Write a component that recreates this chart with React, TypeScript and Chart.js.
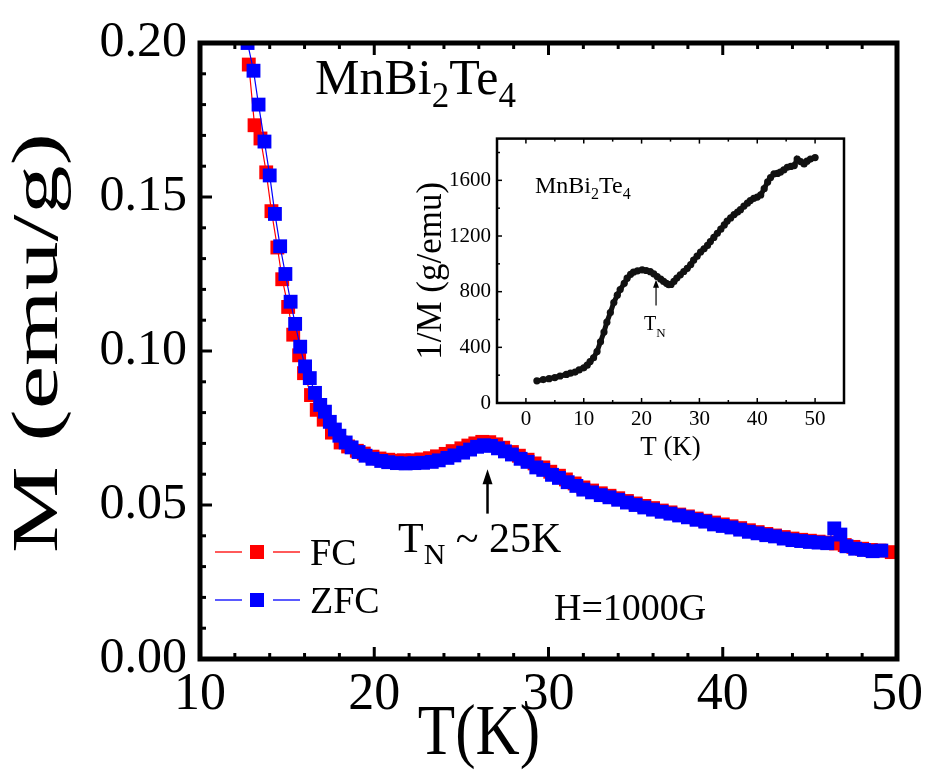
import { useEffect, useRef } from 'react';
import { Chart, registerables } from 'chart.js';
Chart.register(...registerables);

const FONT = '"Liberation Serif", "Times New Roman", Times, serif';

// ---- Main panel data: M (emu/g) vs T (K) ----
const zfcT = [12.73, 13.07, 13.36, 13.7, 14.0, 14.3, 14.6, 14.9, 15.2, 15.46, 15.75, 16.03, 16.3, 16.6, 16.9, 17.17, 17.45, 17.74, 18.0, 18.36, 18.7, 19.1, 19.5, 19.9, 20.4, 20.8, 21.3, 21.8, 22.3, 22.8, 23.3, 23.7, 24.2, 24.6, 25.1, 25.5, 25.9, 26.3, 26.7, 27.1, 27.5, 27.9, 28.4, 28.8, 29.3, 29.7, 30.2, 30.6, 31.1, 31.6, 32.0, 32.5, 33.0, 33.5, 34.0, 34.5, 35.0, 35.5, 36.0, 36.5, 37.0, 37.5, 38.0, 38.5, 39.0, 39.5, 40.0, 40.5, 41.0, 41.5, 42.0, 42.5, 43.0, 43.5, 44.0, 44.5, 45.0, 45.5, 46.0, 46.4, 46.75, 47.1, 47.6, 48.1, 48.6, 49.1];
const zfcM = [0.2, 0.191, 0.18, 0.168, 0.157, 0.1445, 0.134, 0.125, 0.116, 0.1088, 0.1014, 0.095, 0.0912, 0.0864, 0.0825, 0.0803, 0.077, 0.0745, 0.0725, 0.0703, 0.0687, 0.0672, 0.066, 0.065, 0.0643, 0.0639, 0.0636, 0.0635, 0.0636, 0.0637, 0.064, 0.0645, 0.0653, 0.0661, 0.067, 0.068, 0.0689, 0.0694, 0.0692, 0.0684, 0.0674, 0.0664, 0.065, 0.064, 0.0622, 0.0614, 0.0598, 0.0588, 0.0574, 0.0562, 0.055, 0.0541, 0.0532, 0.0525, 0.0517, 0.0508, 0.05, 0.0492, 0.0485, 0.0478, 0.0472, 0.0466, 0.046, 0.0452, 0.0446, 0.0437, 0.0432, 0.0427, 0.042, 0.0413, 0.0408, 0.0402, 0.0398, 0.0391, 0.0386, 0.0383, 0.038, 0.0378, 0.0376, 0.0424, 0.0404, 0.0366, 0.0358, 0.0354, 0.035, 0.0352];

const fcT = [12.8, 13.13, 13.47, 13.8, 14.1, 14.44, 14.72, 15.06, 15.35, 15.69, 15.97, 16.37, 16.7, 17.1, 17.57, 18.07, 18.5, 19.0, 19.4, 19.9, 20.3, 20.8, 21.3, 21.7, 22.2, 22.7, 23.2, 23.6, 24.1, 24.5, 25.0, 25.4, 25.8, 26.2, 26.6, 27.0, 27.4, 27.9, 28.3, 28.8, 29.2, 29.7, 30.1, 30.6, 31.0, 31.5, 32.0, 32.5, 33.0, 33.5, 34.0, 34.5, 35.0, 35.5, 36.0, 36.5, 37.0, 37.5, 38.0, 38.5, 39.0, 39.5, 40.0, 40.5, 41.0, 41.5, 42.0, 42.5, 43.0, 43.5, 44.0, 44.5, 45.0, 45.5, 46.0, 46.5, 47.0, 47.5, 48.0, 48.5, 49.0, 49.7];
const fcM = [0.193, 0.1733, 0.169, 0.158, 0.1454, 0.1336, 0.1233, 0.1143, 0.1053, 0.0986, 0.0928, 0.0857, 0.0809, 0.0777, 0.0735, 0.0703, 0.069, 0.0676, 0.0667, 0.0657, 0.0651, 0.0647, 0.0644, 0.0645, 0.0645, 0.0648, 0.0652, 0.0658, 0.0666, 0.0675, 0.0684, 0.0693, 0.07, 0.0705, 0.0704, 0.0697, 0.0686, 0.0672, 0.066, 0.0647, 0.0635, 0.0622, 0.0608, 0.0595, 0.0583, 0.057, 0.0557, 0.0547, 0.0538, 0.053, 0.0522, 0.0513, 0.0505, 0.0497, 0.049, 0.0482, 0.0476, 0.0469, 0.0463, 0.0456, 0.0449, 0.0443, 0.0437, 0.0431, 0.0425, 0.0418, 0.0412, 0.0406, 0.0401, 0.0396, 0.0391, 0.0387, 0.0384, 0.0381, 0.0378, 0.0375, 0.037, 0.0364, 0.0358, 0.0354, 0.0352, 0.0347];

const mainXTicks = [10, 20, 30, 40, 50];
const mainYTicks = [0, 0.05, 0.1, 0.15, 0.2];
const seriesLabels = ['FC', 'ZFC'];
const mainXTitle = 'T(K)';
const mainYTitle = 'M (emu/g)';

// ---- Inset data: 1/M (g/emu) vs T (K) ----
const insetT = [1.9, 3, 4, 5, 5.9, 7, 7.7, 8.5, 9.2, 10, 10.6, 11.1, 11.7, 12.3, 12.9, 13.5, 14, 14.6, 15.2, 15.8, 16.3, 17, 17.5, 18.1, 18.6, 19.3, 20.1, 20.8, 21.5, 22.1, 22.7, 23.3, 23.8, 24.3, 24.7, 25.1, 25.6, 26.1, 26.7, 27.3, 27.9, 28.5, 29, 29.6, 30.2, 30.8, 31.4, 31.9, 32.5, 33.1, 33.7, 34.3, 34.8, 35.4, 36, 36.6, 37.1, 37.7, 38.3, 38.8, 39.4, 40, 40.6, 41.2, 41.8, 42.3, 42.9, 43.5, 44, 44.6, 45.2, 45.8, 46.4, 46.9, 47.5, 48.1, 48.6, 49.2, 50];
const insetInvM = [159, 168, 175, 183, 194, 205, 214, 222, 238, 253, 272, 298, 325, 370, 440, 510, 581, 650, 722, 775, 815, 860, 897, 925, 940, 950, 956, 952, 944, 928, 909, 890, 874, 860, 850, 852, 874, 898, 921, 945, 968, 995, 1026, 1055, 1085, 1108, 1132, 1160, 1190, 1220, 1249, 1280, 1307, 1330, 1354, 1372, 1389, 1415, 1436, 1455, 1471, 1480, 1495, 1540, 1589, 1620, 1647, 1650, 1659, 1675, 1694, 1700, 1706, 1753, 1735, 1718, 1738, 1753, 1764];
const insetXTicks = [0, 10, 20, 30, 40, 50];
const insetYTicks = [0, 400, 800, 1200, 1600];

type Part = [string, boolean];

function drawRich(ctx: CanvasRenderingContext2D, parts: Part[], x: number, y: number, size: number, subSize: number, subDy: number) {
  let cx = x;
  ctx.textAlign = 'left';
  ctx.textBaseline = 'alphabetic';
  for (const [t, sub] of parts) {
    ctx.font = `${sub ? subSize : size}px ${FONT}`;
    ctx.fillText(t, cx, sub ? y + subDy : y);
    cx += ctx.measureText(t).width;
  }
}

function drawArrow(ctx: CanvasRenderingContext2D, x: number, yTip: number, yTail: number, lw: number, headLen: number, headHalf: number) {
  ctx.save();
  ctx.strokeStyle = '#000';
  ctx.fillStyle = '#000';
  ctx.lineWidth = lw;
  ctx.beginPath();
  ctx.moveTo(x, yTail);
  ctx.lineTo(x, yTip + headLen - 1);
  ctx.stroke();
  ctx.beginPath();
  ctx.moveTo(x, yTip);
  ctx.lineTo(x - headHalf, yTip + headLen);
  ctx.lineTo(x + headHalf, yTip + headLen);
  ctx.closePath();
  ctx.fill();
  ctx.restore();
}

function framePlugin(o: { border: number; tickW: number; major: number; minor: number; xMinor: number; xMajor: number; yMinor: number; yMajor: number; top: boolean; right: boolean }) {
  return {
    id: 'frameTicks',
    afterDatasetsDraw(chart: any) {
      const { ctx, chartArea: a, scales } = chart;
      const xs = scales.x, ys = scales.y;
      ctx.save();
      ctx.strokeStyle = '#000';
      ctx.lineWidth = o.tickW;
      ctx.lineCap = 'butt';
      const isMajor = (v: number, step: number) => Math.abs(v / step - Math.round(v / step)) < 1e-6;
      const seg = (x1: number, y1: number, x2: number, y2: number) => {
        ctx.beginPath(); ctx.moveTo(x1, y1); ctx.lineTo(x2, y2); ctx.stroke();
      };
      const x0 = Math.ceil(xs.min / o.xMinor - 1e-9) * o.xMinor;
      for (let v = x0; v <= xs.max + 1e-9; v += o.xMinor) {
        const px = xs.getPixelForValue(v);
        const len = isMajor(v, o.xMajor) ? o.major : o.minor;
        seg(px, a.bottom, px, a.bottom - len);
        if (o.top) seg(px, a.top, px, a.top + len);
      }
      const y0 = Math.ceil(ys.min / o.yMinor - 1e-9) * o.yMinor;
      for (let v = y0; v <= ys.max + 1e-9; v += o.yMinor) {
        const py = ys.getPixelForValue(v);
        const len = isMajor(v, o.yMajor) ? o.major : o.minor;
        seg(a.left, py, a.left + len, py);
        if (o.right) seg(a.right, py, a.right - len, py);
      }
      ctx.lineWidth = o.border;
      ctx.strokeRect(a.left, a.top, a.right - a.left, a.bottom - a.top);
      ctx.restore();
    },
  };
}

const mainAnnot = {
  id: 'mainAnnot',
  afterDraw(chart: any) {
    const { ctx, scales } = chart;
    const xs = scales.x, ys = scales.y;
    ctx.save();
    ctx.fillStyle = '#000';
    drawRich(ctx, [['MnBi', false], ['2', true], ['Te', false], ['4', true]], 315, 94, 50, 35, 13);
    // T_N arrow
    const ax = xs.getPixelForValue(26.5);
    drawArrow(ctx, ax, ys.getPixelForValue(0.0616), ys.getPixelForValue(0.0472), 2.5, 15, 5);
    drawRich(ctx, [['T', false], ['N', true], [' ~ 25K', false]], 398, 552, 42, 30, 12);
    drawRich(ctx, [['H=1000G', false]], 554, 620, 38, 38, 0);
    // legend
    const ds = chart.data.datasets;
    const rows = [{ i: 0, y: 552 }, { i: 1, y: 600 }];
    for (const r of rows) {
      const d = ds[r.i];
      ctx.strokeStyle = d.borderColor;
      ctx.lineWidth = 1.3;
      ctx.beginPath(); ctx.moveTo(215, r.y); ctx.lineTo(242, r.y); ctx.stroke();
      ctx.beginPath(); ctx.moveTo(273, r.y); ctx.lineTo(300, r.y); ctx.stroke();
      ctx.fillStyle = d.pointBackgroundColor;
      ctx.fillRect(250, r.y - 7, 14, 14);
      ctx.fillStyle = '#000';
      drawRich(ctx, [[d.label, false]], 310, r.y + 13, 38, 38, 0);
    }
    // x-axis title (condensed serif, placed as in the reference)
    ctx.save();
    ctx.font = `72px ${FONT}`;
    ctx.textAlign = 'center';
    ctx.textBaseline = 'middle';
    ctx.translate(479, 735);
    ctx.scale(0.85, 1);
    ctx.fillText(mainXTitle, 0, 0);
    ctx.restore();
    // y-axis title (rotated, elongated like the reference)
    ctx.save();
    ctx.font = `66px ${FONT}`;
    ctx.textAlign = 'center';
    ctx.textBaseline = 'middle';
    const natural = ctx.measureText(mainYTitle).width;
    const k = 420 / natural;
    ctx.translate(40, 343);
    ctx.rotate(-Math.PI / 2);
    ctx.scale(k, 1);
    ctx.fillText(mainYTitle, 0, 0);
    ctx.restore();
    ctx.restore();
  },
};

const insetAnnot = {
  id: 'insetAnnot',
  afterDraw(chart: any) {
    const { ctx, scales } = chart;
    const xs = scales.x, ys = scales.y;
    ctx.save();
    ctx.fillStyle = '#000';
    drawRich(ctx, [['MnBi', false], ['2', true], ['Te', false], ['4', true]], 135, 73, 24, 16, 6);
    const ax = xs.getPixelForValue(22.5);
    drawArrow(ctx, ax, ys.getPixelForValue(885), ys.getPixelForValue(700), 1.2, 8, 3);
    drawRich(ctx, [['T', false], ['N', true]], 244, 210, 20, 13, 7);
    ctx.restore();
  },
};

function pts(xs: number[], ys: number[]) {
  return xs.map((x, i) => ({ x, y: ys[i] }));
}

export default function App() {
  const mainRef = useRef<HTMLCanvasElement>(null);
  const insetRef = useRef<HTMLCanvasElement>(null);

  useEffect(() => {
    const mainChart = new Chart(mainRef.current as HTMLCanvasElement, {
      type: 'scatter',
      data: {
        datasets: [
          {
            label: seriesLabels[0],
            data: pts(fcT, fcM),
            showLine: true,
            borderColor: '#ff0000',
            backgroundColor: '#ff0000',
            pointBackgroundColor: '#ff0000',
            borderWidth: 1.2,
            pointStyle: 'rect',
            pointRadius: 9.8,
            pointBorderWidth: 0,
            clip: 0,
            order: 1,
          },
          {
            label: seriesLabels[1],
            data: pts(zfcT, zfcM),
            showLine: true,
            borderColor: '#0000ff',
            backgroundColor: '#0000ff',
            pointBackgroundColor: '#0000ff',
            borderWidth: 1.2,
            pointStyle: 'rect',
            pointRadius: 9.8,
            pointBorderWidth: 0,
            clip: 0,
            order: 0,
          },
        ],
      } as any,
      options: {
        animation: false,
        responsive: false,
        devicePixelRatio: 1,
        events: [],
        layout: { padding: { left: 0, top: 36, right: 25, bottom: 0 } },
        plugins: { legend: { display: false }, tooltip: { enabled: false } },
        scales: {
          x: {
            type: 'linear',
            min: 10,
            max: 50,
            afterBuildTicks: (s: any) => { s.ticks = mainXTicks.map((v) => ({ value: v })); },
            afterFit: (s: any) => { s.height = 114; },
            ticks: { color: '#000', font: { family: FONT, size: 52 }, padding: 5, maxRotation: 0 },
            grid: { display: false, drawTicks: false },
            border: { display: false },
            title: { display: false, text: mainXTitle },
          },
          y: {
            type: 'linear',
            min: 0,
            max: 0.2,
            afterBuildTicks: (s: any) => { s.ticks = mainYTicks.map((v) => ({ value: v })); },
            afterFit: (s: any) => { s.width = 200; },
            ticks: { color: '#000', font: { family: FONT, size: 50 }, padding: 13, callback: (v: any) => Number(v).toFixed(2) },
            grid: { display: false, drawTicks: false },
            border: { display: false },
            title: { display: false, text: mainYTitle },
          },
        },
      } as any,
      plugins: [framePlugin({ border: 5, tickW: 3, major: 12, minor: 6, xMinor: 2, xMajor: 10, yMinor: 0.01, yMajor: 0.05, top: true, right: false }), mainAnnot],
    });

    const insetChart = new Chart(insetRef.current as HTMLCanvasElement, {
      type: 'scatter',
      data: {
        datasets: [
          {
            label: '1/M',
            data: pts(insetT, insetInvM),
            showLine: true,
            borderColor: '#111',
            backgroundColor: '#111',
            pointBackgroundColor: '#111',
            borderWidth: 5,
            pointRadius: 3.6,
            pointBorderWidth: 0,
          },
        ],
      } as any,
      options: {
        animation: false,
        responsive: false,
        devicePixelRatio: 1,
        events: [],
        layout: { padding: { left: 0, top: 13, right: 16, bottom: 0 } },
        plugins: { legend: { display: false }, tooltip: { enabled: false } },
        scales: {
          x: {
            type: 'linear',
            min: -5,
            max: 55,
            afterBuildTicks: (s: any) => { s.ticks = insetXTicks.map((v) => ({ value: v })); },
            afterFit: (s: any) => { s.height = 62; },
            ticks: { color: '#000', font: { family: FONT, size: 21 }, padding: 4, maxRotation: 0, callback: (v: any) => String(v) },
            grid: { display: false, drawTicks: false },
            border: { display: false },
            title: { display: true, text: 'T (K)', color: '#000', font: { family: FONT, size: 27, lineHeight: 1.2 }, padding: { top: 0, bottom: 1 } },
          },
          y: {
            type: 'linear',
            min: 0,
            max: 1900,
            afterBuildTicks: (s: any) => { s.ticks = insetYTicks.map((v) => ({ value: v })); },
            afterFit: (s: any) => { s.width = 97; },
            ticks: { color: '#000', font: { family: FONT, size: 21 }, padding: 6, callback: (v: any) => String(v) },
            grid: { display: false, drawTicks: false },
            border: { display: false },
            title: { display: true, text: '1/M (g/emu)', color: '#000', font: { family: FONT, size: 35, lineHeight: 1.2 }, padding: { top: 11, bottom: 0 } },
          },
        },
      } as any,
      plugins: [framePlugin({ border: 2.5, tickW: 1.5, major: 5, minor: 3, xMinor: 5, xMajor: 10, yMinor: 200, yMajor: 400, top: true, right: false }), insetAnnot],
    });

    return () => {
      mainChart.destroy();
      insetChart.destroy();
    };
  }, []);

  return (
    <div style={{ position: 'absolute', left: 0, top: 0, width: 928, height: 773, background: '#fff' }}>
      <canvas ref={mainRef} width={928} height={773} style={{ position: 'absolute', left: 0, top: 0, width: 928, height: 773 }} />
      <canvas ref={insetRef} width={460} height={345} style={{ position: 'absolute', left: 400, top: 120, width: 460, height: 345 }} />
    </div>
  );
}
